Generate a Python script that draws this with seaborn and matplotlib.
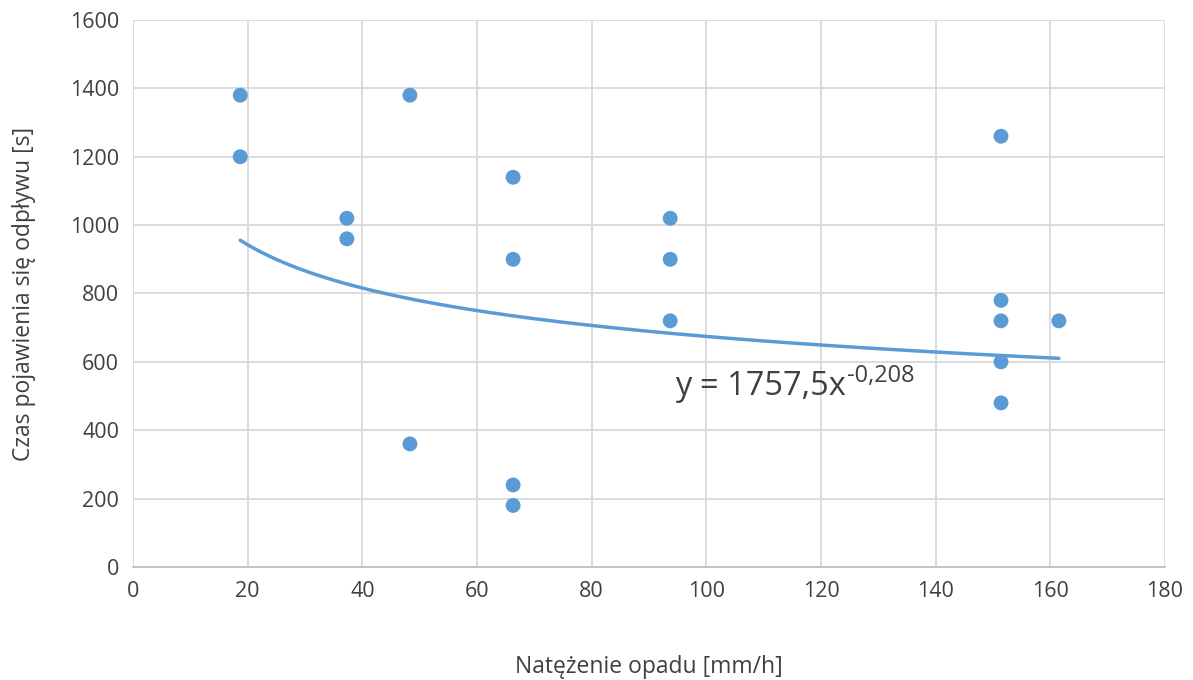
import numpy as np
import matplotlib
matplotlib.use("Agg")
import matplotlib.pyplot as plt
import seaborn as sns
import pandas as pd

sns.set_theme(style="white")
plt.rcParams['font.family'] = ['Open Sans', 'DejaVu Sans']

x_vals = [18.7, 18.7, 37.3, 37.3, 48.3, 48.3, 66.3, 66.3, 66.3, 66.3,
          93.7, 93.7, 93.7, 151.4, 151.4, 151.4, 151.4, 151.4, 161.5]
y_vals = [1380, 1200, 1020, 960, 1380, 360, 1140, 900, 240, 180,
          1020, 900, 720, 1260, 780, 720, 600, 480, 720]
coef_a = 1757.5
coef_b = -0.208
x_ticks = [0, 20, 40, 60, 80, 100, 120, 140, 160, 180]
y_ticks = [0, 200, 400, 600, 800, 1000, 1200, 1400, 1600]

df = pd.DataFrame({"x": x_vals, "y": y_vals})
color = "#5B9BD5"
text_color = "#404040"

fig = plt.figure(figsize=(11.93, 6.80), dpi=100)
ax = fig.add_axes([0.1115, 0.1662, 0.865, 0.8044])

xs = np.linspace(min(x_vals), max(x_vals), 300)
trend = pd.DataFrame({"x": xs, "y": coef_a * xs ** coef_b})
sns.lineplot(data=trend, x="x", y="y", ax=ax, color=color, linewidth=2.5, zorder=3)
sns.scatterplot(data=df, x="x", y="y", ax=ax, color=color, s=115, edgecolor="none", zorder=4)

ax.set_xlim(0, 180)
ax.set_ylim(0, 1600)
ax.set_xticks(x_ticks)
ax.set_yticks(y_ticks)
ax.grid(True, color="#D9D9D9", linewidth=1.3)
ax.set_axisbelow(True)
for s in ["top", "right", "left"]:
    ax.spines[s].set_visible(False)
ax.spines["bottom"].set_color("#BFBFBF")
ax.spines["bottom"].set_linewidth(1.3)
ax.tick_params(axis="both", length=0, labelsize=15.5, colors=text_color, pad=10)

ax.set_xlabel("Natężenie opadu [mm/h]", fontsize=16.5, color=text_color, labelpad=38)
ax.set_ylabel("Czas pojawienia się odpływu [s]", fontsize=16.5, color=text_color, labelpad=24)

t = ax.text(94.5, 503, "y = 1757,5x", fontsize=23.5, color=text_color,
            ha="left", va="baseline")
ax.annotate("-0,208", xy=(1.0, 0.0), xycoords=t, xytext=(1, 15), textcoords="offset points",
            fontsize=17, color=text_color, ha="left", va="baseline")

fig.savefig("out.png", dpi=100)
